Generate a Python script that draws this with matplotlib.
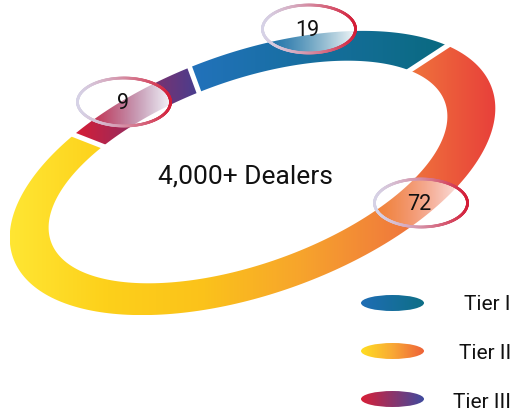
import numpy as np
import matplotlib.pyplot as plt
from matplotlib.patches import Ellipse, Polygon
from matplotlib.colors import LinearSegmentedColormap, to_rgb
from matplotlib.collections import LineCollection

plt.rcParams['font.family'] = ['Roboto', 'DejaVu Sans']

# dealer split by tier
tiers = ['Tier I', 'Tier II', 'Tier III']
counts = [19, 72, 9]
centre_label = '4,000+ Dealers'

# ring runs counter-clockwise from start_deg in this order
ring_order = ['Tier I', 'Tier III', 'Tier II']
start_deg = 27

ring_colors = {
    'Tier I': ['#2272bb', '#0a6a80'],
    'Tier II': ['#ffe633', '#fdd01a', '#fbc21b', '#f7a42c', '#f07b3c', '#e8403a'],
    'Tier III': ['#d81d35', '#463e90'],
}
legend_colors = {
    'Tier I': ['#1f6db5', '#0e6f86'],
    'Tier II': ['#ffde22', '#f9a935', '#ee6238'],
    'Tier III': ['#d91f37', '#3f4a9e'],
}

# bubble labels: tier -> (centre x, centre y) in pixels
bubble_pos = {'Tier I': (309, 29), 'Tier II': (421, 203), 'Tier III': (124, 102)}

W, H = 514, 415
fig = plt.figure(figsize=(W / 100, H / 100), dpi=100)
ax = fig.add_axes([0, 0, 1, 1])
ax.axis('off')

th = np.deg2rad(19.5)
outer = dict(cx=252.5, cy=173, a=254, b=121)
inner = dict(cx=248, cy=172, a=209, b=92)


def ell(t, cx, cy, a, b):
    x = cx + a * np.cos(t) * np.cos(th) - b * np.sin(t) * np.sin(th)
    y = cy - (a * np.cos(t) * np.sin(th) + b * np.sin(t) * np.cos(th))
    return x, y


def hgrad(colors, x0, x1, y0, y1, clip, z):
    cmap = LinearSegmentedColormap.from_list('g', colors)
    im = ax.imshow(np.linspace(0, 1, 256)[None, :], cmap=cmap, aspect='auto',
                   extent=(x0, x1, y1, y0), interpolation='bilinear', zorder=z)
    im.set_clip_path(clip)
    return im


# ring segments
total = sum(counts)
angle = np.deg2rad(start_deg)
bounds = []
for name in ring_order:
    span = 2 * np.pi * counts[tiers.index(name)] / total
    t = np.linspace(angle, angle + span, 200)
    ox, oy = ell(t, **outer)
    ix, iy = ell(t[::-1], **inner)
    pts = np.column_stack([np.r_[ox, ix], np.r_[oy, iy]])
    poly = Polygon(pts, closed=True, facecolor='none', edgecolor='none')
    ax.add_patch(poly)
    hgrad(ring_colors[name], pts[:, 0].min(), pts[:, 0].max(),
          pts[:, 1].min(), pts[:, 1].max(), poly, 1)
    bounds.append(angle)
    angle += span

# white slits between segments
for b0 in bounds:
    x0, y0 = ell(b0, **inner)
    x1, y1 = ell(b0, **outer)
    dx, dy = x1 - x0, y1 - y0
    ax.plot([x0 - 0.1 * dx, x1 + 0.1 * dx], [y0 - 0.1 * dy, y1 + 0.1 * dy],
            color='white', lw=3.6, solid_capstyle='butt', zorder=2)

ax.text(245.5, 183, centre_label, ha='center', va='baseline',
        fontsize=19, color='#111111', zorder=5)

# glassy value bubbles
bw, bh = 93, 48
edge_l, edge_r = np.array(to_rgb('#d6d2e6')), np.array(to_rgb('#d41c36'))
for name, (bx, by) in bubble_pos.items():
    clip = Ellipse((bx, by), bw, bh, facecolor='none', edgecolor='none')
    ax.add_patch(clip)
    f = np.linspace(0, 1, 256)
    rgba = np.ones((1, 256, 4))
    rgba[0, :, 3] = 0.95 * f ** 1.3
    im = ax.imshow(rgba, aspect='auto', extent=(bx - bw / 2, bx + bw / 2, by + bh / 2, by - bh / 2),
                   interpolation='bilinear', zorder=3)
    im.set_clip_path(clip)
    t = np.linspace(0, 2 * np.pi, 361)
    ex = bx + bw / 2 * np.cos(t)
    ey = by + bh / 2 * np.sin(t)
    segs = np.stack([np.column_stack([ex[:-1], ey[:-1]]), np.column_stack([ex[1:], ey[1:]])], axis=1)
    frac = ((ex[:-1] + ex[1:]) / 2 - (bx - bw / 2)) / bw
    w = np.clip(frac, 0, 1)[:, None] ** 1.4
    cols = edge_l * (1 - w) + edge_r * w
    ax.add_collection(LineCollection(segs, colors=cols, linewidths=2.0, zorder=4,
                                     capstyle='round'))
    ax.text(bx - 1.5, by + 6.5, str(counts[tiers.index(name)]), ha='center', va='baseline',
            fontsize=15.5, color='#111111', zorder=5)

# legend
leg_y = [303, 351, 399]
leg_base = [310, 359, 408]
for name, ly, lb in zip(tiers, leg_y, leg_base):
    e = Ellipse((392.5, ly), 63, 16, facecolor='none', edgecolor='none')
    ax.add_patch(e)
    hgrad(legend_colors[name], 361, 424, ly - 8, ly + 8, e, 3)
    ax.text(511, lb, name, ha='right', va='baseline', fontsize=15, color='#111111')

ax.set_xlim(0, W)
ax.set_ylim(H, 0)
fig.savefig('out.png', dpi=100)
